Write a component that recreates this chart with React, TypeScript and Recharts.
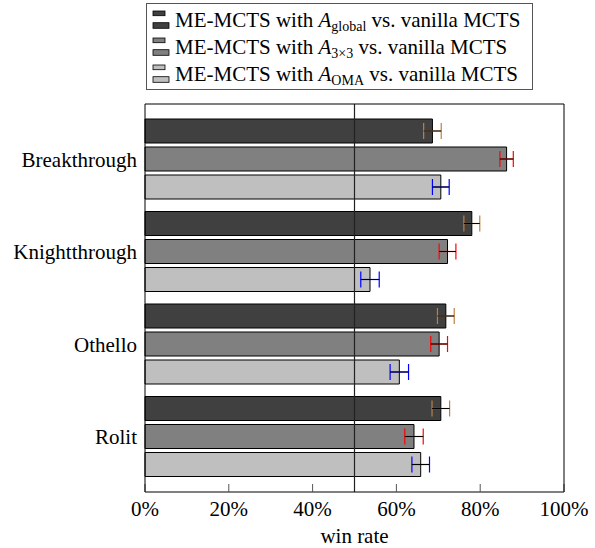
import {
  BarChart,
  Bar,
  XAxis,
  YAxis,
  ErrorBar,
  ReferenceLine,
} from "recharts";

const games = ["Breakthrough", "Knightthrough", "Othello", "Rolit"];
const globalRate = [68.6, 78.0, 71.8, 70.6];
const globalErr = [2.1, 1.9, 2.0, 2.1];
const gridRate = [86.3, 72.2, 70.2, 64.2];
const gridErr = [1.6, 2.0, 2.0, 2.2];
const omaRate = [70.6, 53.7, 60.7, 65.8];
const omaErr = [2.0, 2.2, 2.2, 2.1];
const xTicks = [0, 20, 40, 60, 80, 100];

const FONT = "Liberation Serif, DejaVu Serif, serif";

const data = games.map((game, i) => ({
  game,
  global: globalRate[i],
  globalErr: globalErr[i],
  grid: gridRate[i],
  gridErr: gridErr[i],
  oma: omaRate[i],
  omaErr: omaErr[i],
}));

// bar fill, error bar cap colour, legend subscript
const SERIES = [
  { key: "global", fill: "#404040", cap: "#bf8040", sub: "global" },
  { key: "grid", fill: "#808080", cap: "#ff0000", sub: "3×3" },
  { key: "oma", fill: "#bfbfbf", cap: "#0000ff", sub: "OMA" },
];

const LegendBox = () => (
  <svg
    width={595}
    height={95}
    style={{ position: "absolute", left: 0, top: 0, fontFamily: FONT }}
  >
    <rect x={146.5} y={3.5} width={386} height={86} fill="#fff" stroke="#555" />
    {SERIES.map((s, i) => {
      const base = 26.5 + i * 27;
      return (
        <g key={s.key}>
          <rect x={153} y={base - 15.5} width={12} height={4.7} fill={s.fill} stroke="#000" strokeWidth={0.8} />
          <rect x={153} y={base - 3.8} width={16} height={5.6} fill={s.fill} stroke="#000" strokeWidth={0.8} />
          <text x={175} y={base} fontSize={21} fill="#000" style={{ fontFamily: FONT }}>
            {"ME-MCTS with "}
            <tspan fontStyle="italic">A</tspan>
            <tspan fontSize={14} dy={4}>{s.sub}</tspan>
            <tspan dy={-4}>{" vs. vanilla MCTS"}</tspan>
          </text>
        </g>
      );
    })}
  </svg>
);

const tickStyle = { fontSize: 21, fill: "#000", fontFamily: FONT };

export default function App() {
  return (
    <div style={{ position: "absolute", left: 0, top: 0, width: 595, height: 548, background: "#fff", fontFamily: FONT }}>
      <LegendBox />
      <BarChart
        width={595}
        height={548}
        data={data}
        layout="vertical"
        margin={{ top: 103, right: 30, bottom: 0, left: 0 }}
        barSize={24}
        barGap={4}
      >
        <XAxis
          xAxisId="b"
          type="number"
          domain={[0, 100]}
          ticks={xTicks}
          tickFormatter={(v) => `${v}%`}
          height={56}
          tickSize={-8}
          tickMargin={17}
          axisLine={{ stroke: "#000" }}
          tickLine={{ stroke: "#555" }}
          tick={tickStyle}
          label={{ value: "win rate", position: "insideBottom", offset: 5, fill: "#000", fontSize: 21, fontFamily: FONT }}
        />
        <XAxis
          xAxisId="t"
          orientation="top"
          type="number"
          domain={[0, 100]}
          ticks={xTicks}
          height={1}
          tickSize={-8}
          tick={false}
          axisLine={{ stroke: "#000" }}
          tickLine={{ stroke: "#555" }}
        />
        <YAxis
          yAxisId="l"
          type="category"
          dataKey="game"
          width={145}
          padding={{ top: 9, bottom: 9 }}
          tickLine={false}
          tickSize={0}
          tickMargin={8}
          axisLine={{ stroke: "#000" }}
          tick={tickStyle}
        />
        <YAxis
          yAxisId="r"
          orientation="right"
          type="category"
          dataKey="game"
          width={1}
          padding={{ top: 9, bottom: 9 }}
          tickSize={-8}
          tick={false}
          axisLine={{ stroke: "#000" }}
          tickLine={{ stroke: "#555" }}
        />
        {SERIES.map((s) => (
          <Bar
            key={s.key}
            dataKey={s.key}
            xAxisId="b"
            yAxisId="l"
            fill={s.fill}
            stroke="#000"
            strokeWidth={1}
            isAnimationActive={false}
          >
            <ErrorBar dataKey={`${s.key}Err`} direction="x" width={8} stroke={s.cap} strokeWidth={1.2} isAnimationActive={false} />
            <ErrorBar dataKey={`${s.key}Err`} direction="x" width={0} stroke="#000" strokeWidth={1} isAnimationActive={false} />
          </Bar>
        ))}
        <ReferenceLine x={50} xAxisId="b" yAxisId="l" stroke="#222" strokeWidth={1.2} />
      </BarChart>
    </div>
  );
}
